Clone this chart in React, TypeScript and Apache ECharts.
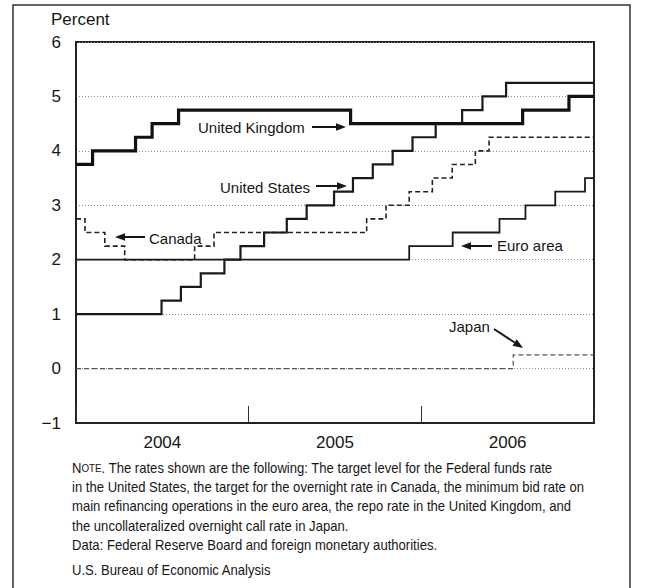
import React, { useEffect, useRef } from "react";
import * as echarts from "echarts";

// ---- Data (policy rates, percent) ----
const years = ["2004", "2005", "2006"];
const yTickLabels: Record<number, string> = { [-1]: "\u22121", 0: "0", 1: "1", 2: "2", 3: "3", 4: "4", 5: "5", 6: "6" };

const ukDates = ["2004-01-01", "2004-02-05", "2004-05-06", "2004-06-10", "2004-08-05", "2005-08-04", "2006-08-03", "2006-11-09", "2007-01-01"];
const ukRates = [3.75, 4.0, 4.25, 4.5, 4.75, 4.5, 4.75, 5.0, 5.0];

const usDates = ["2004-01-01", "2004-06-30", "2004-08-10", "2004-09-21", "2004-11-10", "2004-12-14", "2005-02-02", "2005-03-22", "2005-05-03", "2005-06-30", "2005-08-09", "2005-09-20", "2005-11-01", "2005-12-13", "2006-01-31", "2006-03-28", "2006-05-10", "2006-06-29", "2007-01-01"];
const usRates = [1.0, 1.25, 1.5, 1.75, 2.0, 2.25, 2.5, 2.75, 3.0, 3.25, 3.5, 3.75, 4.0, 4.25, 4.5, 4.75, 5.0, 5.25, 5.25];

const caDates = ["2004-01-01", "2004-01-20", "2004-03-02", "2004-04-13", "2004-09-08", "2004-10-19", "2005-09-07", "2005-10-18", "2005-12-06", "2006-01-24", "2006-03-07", "2006-04-25", "2006-05-24", "2007-01-01"];
const caRates = [2.75, 2.5, 2.25, 2.0, 2.25, 2.5, 2.75, 3.0, 3.25, 3.5, 3.75, 4.0, 4.25, 4.25];

const euDates = ["2004-01-01", "2005-12-06", "2006-03-08", "2006-06-15", "2006-08-09", "2006-10-11", "2006-12-13", "2007-01-01"];
const euRates = [2.0, 2.25, 2.5, 2.75, 3.0, 3.25, 3.5, 3.5];

const jpDates = ["2004-01-01", "2006-07-14", "2007-01-01"];
const jpRates = [0, 0.25, 0.25];

const noteLines = [
  "The rates shown are the following: The target level for the Federal funds rate",
  "in the United States, the target for the overnight rate in Canada, the minimum bid rate on",
  "main refinancing operations in the euro area, the repo rate in the United Kingdom, and",
  "the uncollateralized overnight call rate in Japan.",
  "Data: Federal Reserve Board and foreign monetary authorities.",
];
const sourceText = "U.S. Bureau of Economic Analysis";

const pairs = (d: string[], v: number[]) => d.map((x, i) => [x, v[i]]);

const FONT = "'Liberation Sans', Arial, Helvetica, sans-serif";
const INK = "#161616";
const NOTE_SCALE = 0.935;

function arrow(x1: number, y1: number, x2: number, y2: number, head = 10, half = 3.8) {
  const dx = x2 - x1, dy = y2 - y1;
  const len = Math.sqrt(dx * dx + dy * dy);
  const ux = dx / len, uy = dy / len;
  const bx = x2 - ux * head, by = y2 - uy * head;
  return [
    { type: "line", silent: true, shape: { x1, y1, x2: bx, y2: by }, style: { stroke: INK, lineWidth: 2 } },
    {
      type: "polygon", silent: true,
      shape: { points: [[x2, y2], [bx - uy * half, by + ux * half], [bx + uy * half, by - ux * half]] },
      style: { fill: INK },
    },
  ];
}

function label(text: string, x: number, y: number, align = "left") {
  return {
    type: "text", silent: true, x, y,
    style: { text, fill: INK, font: `15px ${FONT}`, align, verticalAlign: "middle" },
  };
}

export default function App() {
  const ref = useRef<HTMLDivElement>(null);
  useEffect(() => {
    if (!ref.current) return;
    const chart = echarts.init(ref.current, null, { renderer: "svg" });
    const lineSeries = (name: string, data: any[], width: number, type: any, color: string, z: number) => ({
      name, type: "line", step: "end", data, xAxisIndex: 1, yAxisIndex: 0,
      showSymbol: false, symbol: "none", z,
      lineStyle: { width, type, color, cap: "butt", join: "miter" },
    });
    const noteY0 = 468;
    const lh = 19.3;
    const graphics: any[] = [
      { type: "rect", silent: true, shape: { x: 13, y: 5, width: 617, height: 620 }, style: { fill: "none", stroke: "#333", lineWidth: 1.5 } },
      { type: "text", silent: true, x: 51, y: 19, style: { text: "Percent", fill: INK, font: `17px ${FONT}`, verticalAlign: "middle" } },
      label("United Kingdom", 198, 127),
      ...arrow(312, 127, 346, 127),
      label("United States", 220, 187),
      ...arrow(316, 186, 347, 186),
      label("Canada", 149, 238),
      ...arrow(145, 237, 115, 237),
      label("Euro area", 497, 245),
      ...arrow(492, 246, 461, 246),
      label("Japan", 449, 326),
      ...arrow(494, 329, 523, 348),
      {
        type: "text", silent: true, x: 72, y: noteY0, scaleX: NOTE_SCALE,
        style: {
          text: "{n|N}{s|OTE}{n|. " + noteLines[0] + "}",
          fill: INK, verticalAlign: "middle",
          rich: { n: { font: `14px ${FONT}`, fill: INK }, s: { font: `10.5px ${FONT}`, fill: INK } },
        },
      },
      ...noteLines.slice(1).map((t, i) => ({
        type: "text", silent: true, x: 72, y: noteY0 + lh * (i + 1), scaleX: NOTE_SCALE,
        style: { text: t, fill: INK, font: `14px ${FONT}`, verticalAlign: "middle" },
      })),
      { type: "text", silent: true, x: 72, y: 570, scaleX: NOTE_SCALE, style: { text: sourceText, fill: INK, font: `14px ${FONT}`, verticalAlign: "middle" } },
    ];
    chart.setOption({
      animation: false,
      backgroundColor: "#fff",
      grid: { left: 76, top: 42, width: 518, height: 381, show: true, borderColor: "#222", borderWidth: 2, backgroundColor: "transparent" },
      xAxis: [
        {
          type: "category", data: years, boundaryGap: true, position: "bottom",
          axisLine: { show: true, onZero: false, lineStyle: { color: "#222", width: 2 } },
          axisTick: { show: true, inside: true, length: 17, lineStyle: { color: "#333", width: 1 } },
          axisLabel: { fontSize: 17, color: INK, margin: 11, fontFamily: FONT },
          splitLine: { show: false },
        },
        { type: "time", min: "2004-01-01", max: "2007-01-01", show: false, axisLine: { onZero: false } },
      ],
      yAxis: {
        type: "value", min: -1, max: 6, interval: 1,
        axisLine: { show: true, onZero: false, lineStyle: { color: "#222", width: 2 } },
        axisTick: { show: false },
        axisLabel: { fontSize: 17, color: INK, margin: 15, fontFamily: FONT, formatter: (v: number) => yTickLabels[v] ?? String(v) },
        splitLine: { show: true, lineStyle: { type: [1, 2], color: "#8a8a8a", width: 1 } },
      },
      series: [
        lineSeries("Japan", pairs(jpDates, jpRates), 1.2, [5, 3], "#555", 2),
        lineSeries("Canada", pairs(caDates, caRates), 1.6, [5, 3], "#222", 3),
        lineSeries("Euro area", pairs(euDates, euRates), 1.8, "solid", "#1a1a1a", 4),
        lineSeries("United States", pairs(usDates, usRates), 2.2, "solid", "#1a1a1a", 5),
        lineSeries("United Kingdom", pairs(ukDates, ukRates), 3.2, "solid", "#111", 6),
      ],
      graphic: graphics,
    });
    return () => chart.dispose();
  }, []);
  return <div ref={ref} style={{ position: "fixed", left: 0, top: 0, width: 653, height: 588, background: "#fff" }} />;
}
